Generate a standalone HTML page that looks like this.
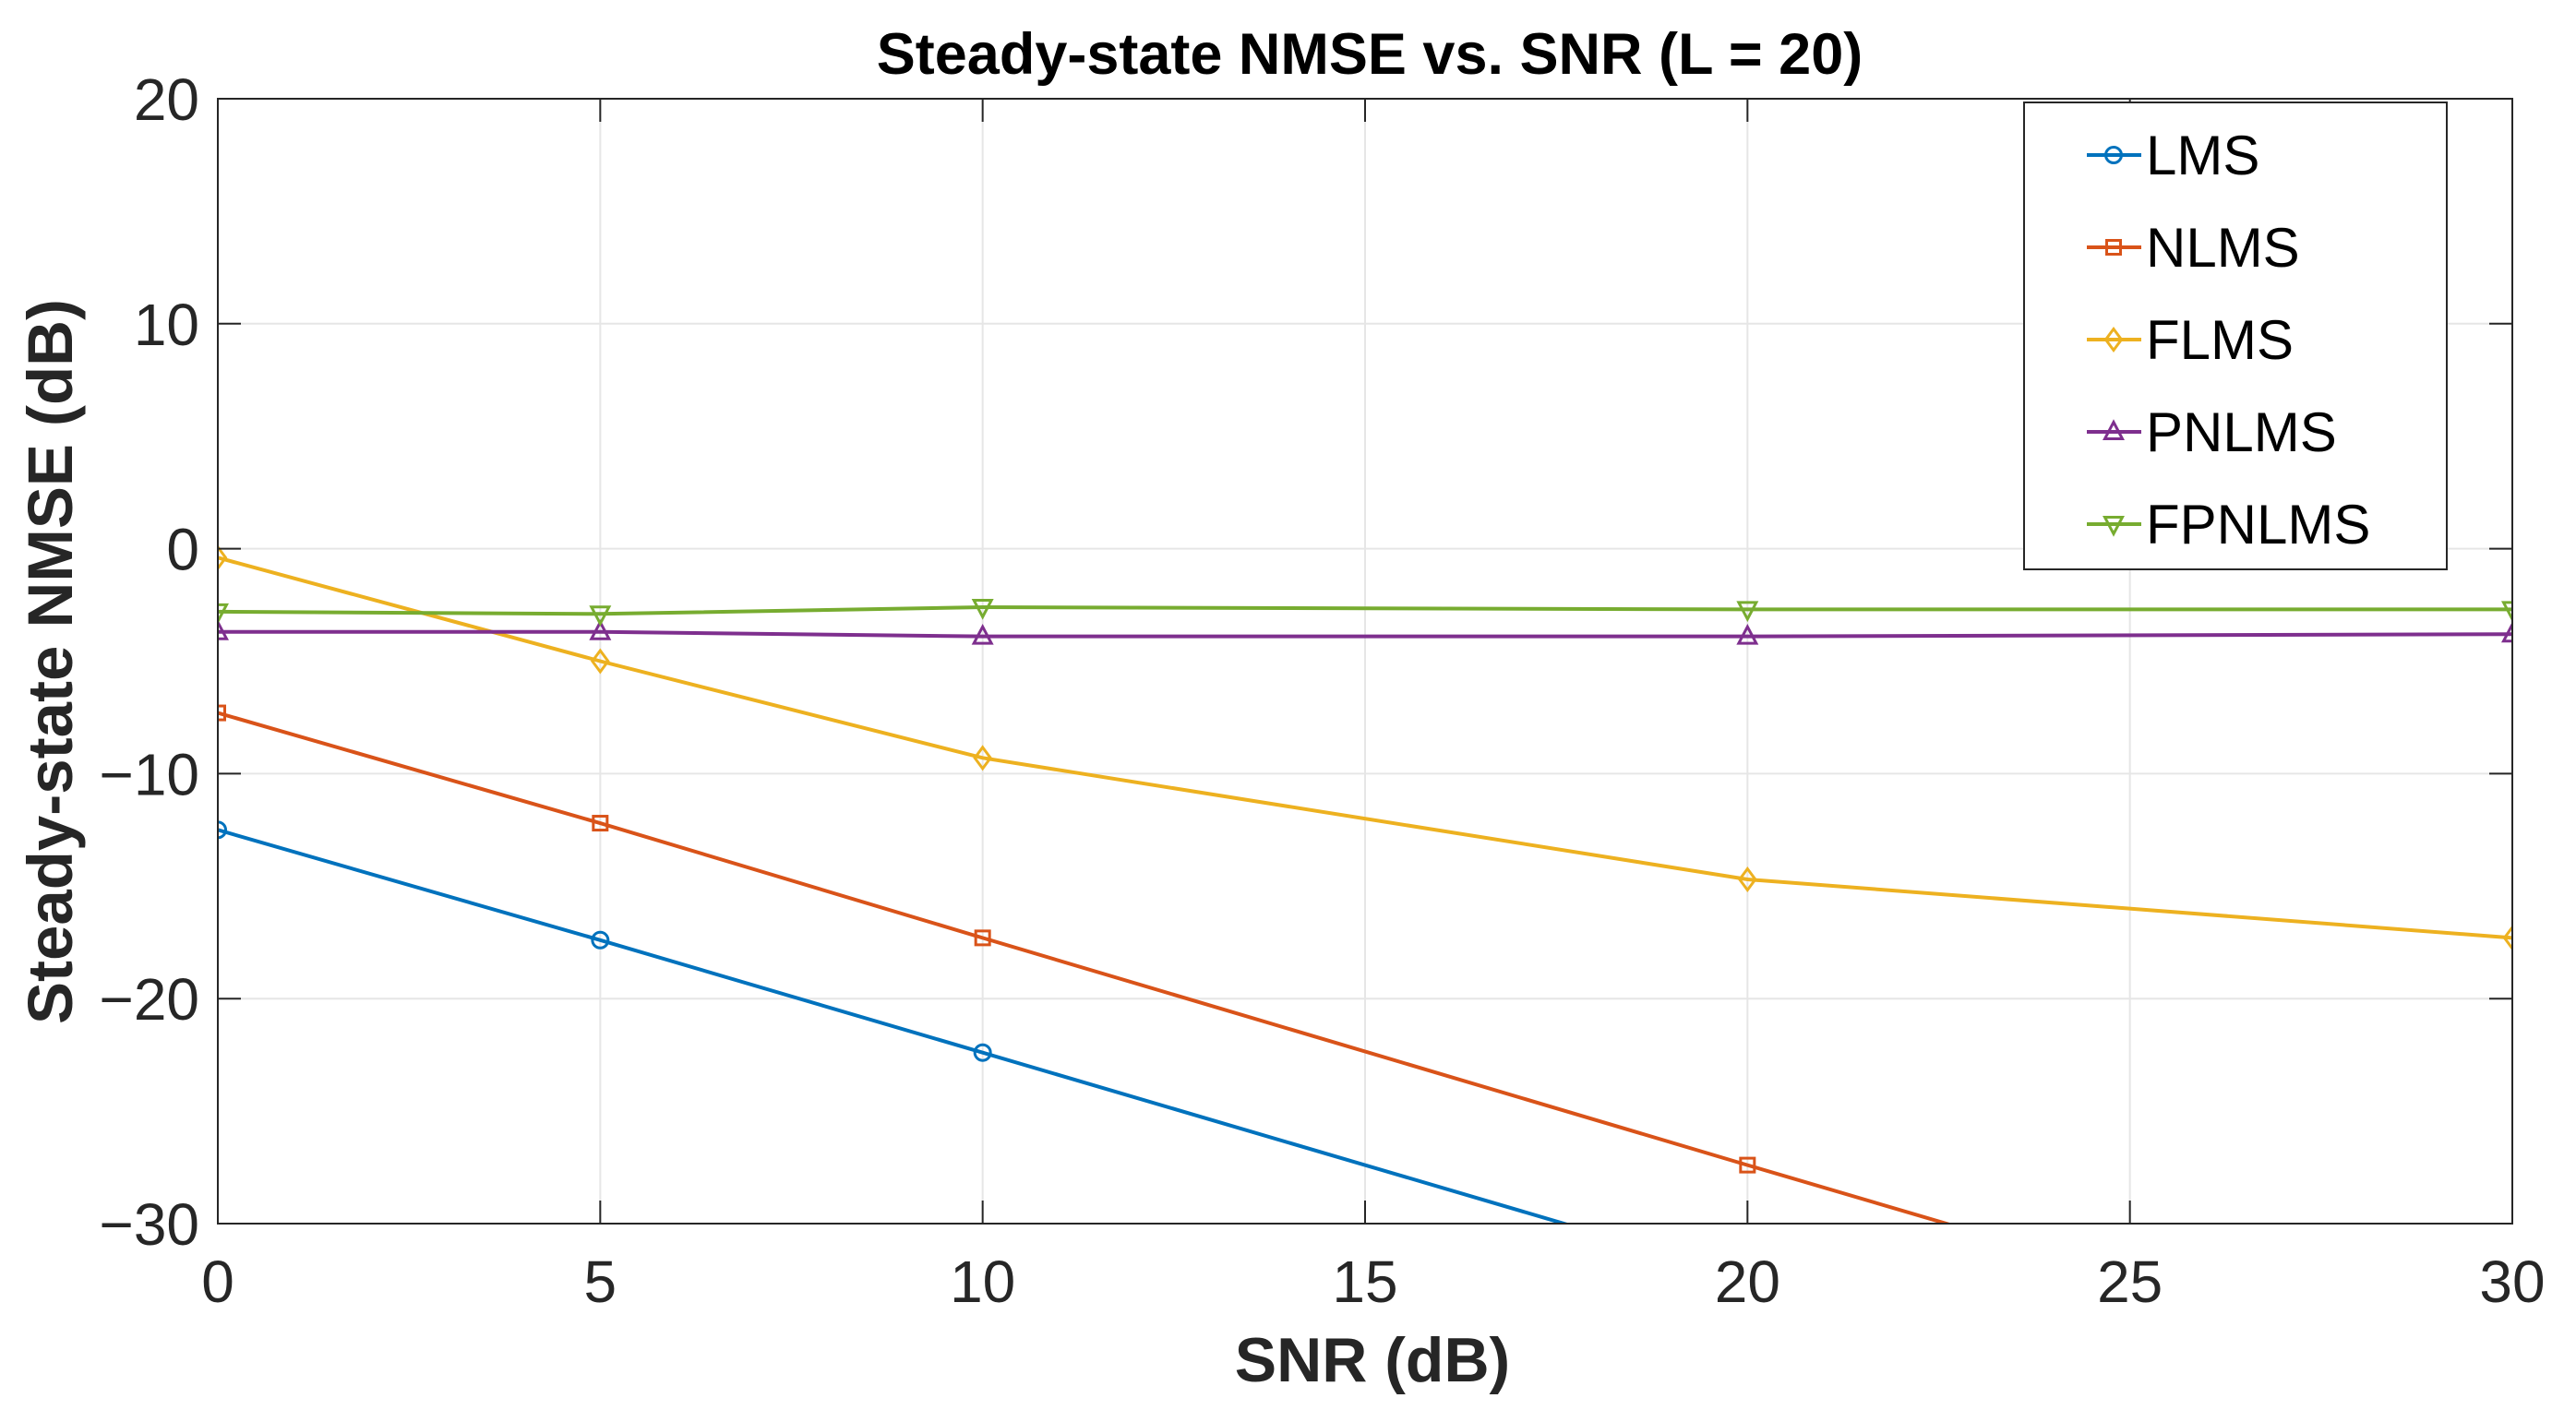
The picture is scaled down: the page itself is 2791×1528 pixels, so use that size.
<!DOCTYPE html>
<html><head><meta charset="utf-8"><style>
html,body{margin:0;padding:0;background:#fff;overflow:hidden;width:2791px;height:1528px;}
svg{display:block;font-family:"Liberation Sans",Arial,sans-serif;}
</style></head><body>
<svg id="chart" width="2791" height="1528" viewBox="0 0 2791 1528">
<defs><clipPath id="plotclip"><rect x="236" y="107" width="2486" height="1219"/></clipPath></defs>
<rect x="236" y="107" width="2486" height="1219" fill="#fff"/>
<g id="grid"></g>
<g id="series" clip-path="url(#plotclip)"></g>
<rect x="236" y="107" width="2486" height="1219" fill="none" stroke="#262626" stroke-width="2"/>
<g id="ticks"></g>
<text x="1484" y="80" text-anchor="middle" font-size="63" font-weight="bold" fill="#000">Steady-state NMSE vs. SNR (L = 20)</text>
<text x="1487" y="1497" text-anchor="middle" font-size="68" font-weight="bold" fill="#262626">SNR (dB)</text>
<text transform="translate(78,717) rotate(-90)" text-anchor="middle" font-size="69" font-weight="bold" fill="#262626">Steady-state NMSE (dB)</text>
<g id="legend"></g>
</svg>
<script>
const snr = [0, 5, 10, 20, 30];
const lms = [-12.5, -17.4, -22.4, -32.4, -42.4];
const nlms = [-7.3, -12.2, -17.3, -27.4, -37.4];
const flms = [-0.4, -5.0, -9.3, -14.7, -17.3];
const pnlms = [-3.7, -3.7, -3.9, -3.9, -3.8];
const fpnlms = [-2.8, -2.9, -2.6, -2.7, -2.7];
const xTicks = [0, 5, 10, 15, 20, 25, 30];
const yTicks = [20, 10, 0, -10, -20, -30];
const seriesNames = ["LMS", "NLMS", "FLMS", "PNLMS", "FPNLMS"];

const NS = "http://www.w3.org/2000/svg";
const X0 = 236, X1 = 2722, Y0 = 107, Y1 = 1326;
const xS = v => X0 + (v - 0) / 30 * (X1 - X0);
const yS = v => Y1 - (v + 30) / 50 * (Y1 - Y0);
function mk(tag, attrs, parent) { const e = document.createElementNS(NS, tag); for (const k in attrs) e.setAttribute(k, attrs[k]); parent.appendChild(e); return e; }

const grid = document.getElementById('grid'), ticks = document.getElementById('ticks');
xTicks.forEach(t => {
  const x = xS(t);
  const g = mk('line', {x1: x, x2: x, y1: Y0, y2: Y1, stroke: '#e6e6e6', 'stroke-width': 2}, grid);
  
  
  mk('line', {x1: x, x2: x, y1: Y1, y2: Y1 - 25, stroke: '#262626', 'stroke-width': 2}, ticks);
  mk('line', {x1: x, x2: x, y1: Y0, y2: Y0 + 25, stroke: '#262626', 'stroke-width': 2}, ticks);
  const tx = mk('text', {x: x, y: 1411, 'text-anchor': 'middle', 'font-size': 64, fill: '#262626'}, ticks);
  tx.textContent = t;
  
  
});
yTicks.forEach(t => {
  const y = yS(t);
  const g = mk('line', {x1: X0, x2: X1, y1: y, y2: y, stroke: '#e6e6e6', 'stroke-width': 2}, grid);
  
  
  mk('line', {x1: X0, x2: X0 + 25, y1: y, y2: y, stroke: '#262626', 'stroke-width': 2}, ticks);
  mk('line', {x1: X1, x2: X1 - 25, y1: y, y2: y, stroke: '#262626', 'stroke-width': 2}, ticks);
  const tx = mk('text', {x: 216, y: y + 23, 'text-anchor': 'end', 'font-size': 64, fill: '#262626'}, ticks);
  tx.textContent = (t < 0 ? '\u2212' + (-t) : t);
  
  
});

const colors = ['#0072BD', '#D95319', '#EDB120', '#7E2F8E', '#77AC30'];
const markers = ['circle', 'square', 'diamond', 'triangle-up', 'triangle-down'];
const data = [lms, nlms, flms, pnlms, fpnlms];
function marker(type, x, y, c, parent) {
  const s = 8.5;
  const a = {fill: 'none', stroke: c, 'stroke-width': 3};
  let e;
  if (type === 'circle') e = mk('circle', Object.assign({cx: x, cy: y, r: s}, a), parent);
  else if (type === 'square') e = mk('rect', Object.assign({x: x - s + 1, y: y - s + 1, width: 2 * s - 2, height: 2 * s - 2}, a), parent);
  else if (type === 'diamond') e = mk('polygon', Object.assign({points: `${x},${y - s - 3} ${x + s},${y} ${x},${y + s + 3} ${x - s},${y}`}, a), parent);
  else if (type === 'triangle-up') e = mk('polygon', Object.assign({points: `${x},${y - s - 2} ${x + s + 1},${y + s - 1} ${x - s - 1},${y + s - 1}`}, a), parent);
  else e = mk('polygon', Object.assign({points: `${x},${y + s + 2} ${x + s + 1},${y - s + 1} ${x - s - 1},${y - s + 1}`}, a), parent);
  return e;
}
const sg = document.getElementById('series');
data.forEach((vals, i) => {
  const g = mk('g', {}, sg);
  
  
  const pts = vals.map((v, j) => xS(snr[j]) + ',' + yS(v)).join(' ');
  const pl = mk('polyline', {points: pts, fill: 'none', stroke: colors[i], 'stroke-width': 4}, g);
  
  
  vals.forEach((v, j) => {
    const m = marker(markers[i], xS(snr[j]), yS(v), colors[i], g);
    
    
  });
});

const lg = document.getElementById('legend');


mk('rect', {x: 2193, y: 111, width: 458, height: 506, fill: '#fff', stroke: '#262626', 'stroke-width': 2}, lg);
seriesNames.forEach((n, i) => {
  const y = 168 + i * 100;
  const g = mk('g', {}, lg);
  
  
  mk('line', {x1: 2261, x2: 2320, y1: y, y2: y, stroke: colors[i], 'stroke-width': 4}, g);
  marker(markers[i], 2290, y, colors[i], g);
  const t = mk('text', {x: 2325, y: y + 21, 'font-size': 60, fill: '#000'}, g);
  t.textContent = n;
  
  
});
</script>
</body></html>
